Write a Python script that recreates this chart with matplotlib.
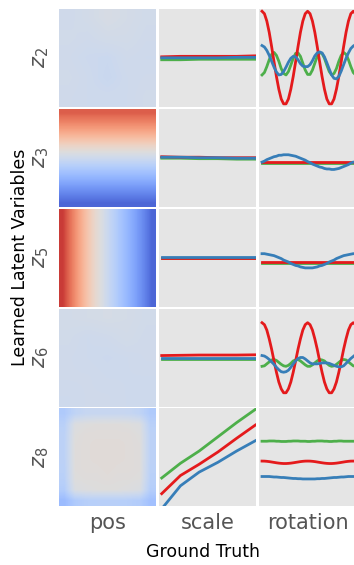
import numpy as np
import matplotlib.pyplot as plt

plt.style.use('ggplot')

latents = ['$z_2$', '$z_3$', '$z_5$', '$z_6$', '$z_8$']
factors = ['pos', 'scale', 'rotation']
GREEN, RED, BLUE = '#4DAF4A', '#E41A1C', '#377EB8'

# --- pos column: mean latent value over the 2D position grid (coolwarm, -1..1)
pos_z2 = [[-0.10, -0.08, -0.05, -0.07, -0.09],
          [-0.09, -0.10, -0.08, -0.08, -0.10],
          [-0.10, -0.12, -0.13, -0.10, -0.11],
          [-0.09, -0.11, -0.14, -0.11, -0.10],
          [-0.10, -0.11, -0.11, -0.11, -0.09]]
pos_z3_rows = [0.75, 0.62, 0.47, 0.30, 0.12, -0.04, -0.19, -0.34, -0.48, -0.62, -0.75, -0.88]
pos_z5_cols = [0.88, 0.66, 0.45, 0.25, 0.08, -0.06, -0.20, -0.33, -0.45, -0.58, -0.72, -0.88]
pos_z6 = [[-0.08, -0.07, -0.06, -0.07, -0.09],
          [-0.09, -0.11, -0.10, -0.08, -0.10],
          [-0.10, -0.11, -0.12, -0.11, -0.10],
          [-0.10, -0.10, -0.11, -0.11, -0.11],
          [-0.11, -0.10, -0.10, -0.11, -0.11]]
pos_z8 = [[-0.30, -0.20, -0.16, -0.15, -0.15, -0.15, -0.16, -0.20, -0.30],
          [-0.24, -0.02, 0.00, 0.01, 0.01, 0.01, 0.00, -0.02, -0.24],
          [-0.22, 0.00, 0.02, 0.02, 0.02, 0.02, 0.02, 0.00, -0.22],
          [-0.22, 0.01, 0.02, 0.03, 0.03, 0.03, 0.02, 0.01, -0.22],
          [-0.22, 0.01, 0.02, 0.03, 0.03, 0.03, 0.02, 0.01, -0.22],
          [-0.23, 0.01, 0.02, 0.02, 0.03, 0.02, 0.02, 0.01, -0.23],
          [-0.24, 0.00, 0.01, 0.01, 0.02, 0.01, 0.01, 0.00, -0.24],
          [-0.28, -0.03, -0.01, 0.00, 0.00, 0.00, -0.01, -0.03, -0.27],
          [-0.42, -0.30, -0.26, -0.25, -0.25, -0.25, -0.26, -0.28, -0.38]]

# --- scale column (6 scale values), one row per latent
scale_green = [[-0.04, -0.04, -0.03, -0.03, -0.03, -0.03],
               [-0.01, -0.01, -0.02, -0.02, -0.03, -0.03],
               [-0.01, -0.01, -0.01, -0.01, -0.01, -0.01],
               [-0.03, -0.03, -0.03, -0.03, -0.03, -0.03],
               [-0.42, -0.12, 0.13, 0.42, 0.71, 0.98]]
scale_red = [[0.02, 0.03, 0.03, 0.03, 0.03, 0.04],
             [0.02, 0.01, 0.01, 0.00, 0.00, 0.00],
             [-0.005, -0.005, -0.005, -0.005, -0.005, -0.005],
             [0.04, 0.045, 0.05, 0.05, 0.05, 0.055],
             [-0.74, -0.37, -0.14, 0.11, 0.39, 0.66]]
scale_blue = [[0.00, 0.00, 0.00, 0.00, 0.01, 0.01],
              [0.01, 0.01, 0.00, 0.00, -0.01, -0.01],
              [0.01, 0.01, 0.01, 0.01, 0.01, 0.01],
              [0.00, 0.00, 0.00, 0.00, 0.00, 0.00],
              [-1.05, -0.58, -0.30, -0.10, 0.13, 0.34]]

# --- rotation column (40 rotation values)
rot_red_z2 = [0.95, 0.90, 0.75, 0.52, 0.23, -0.08, -0.38, -0.64, -0.84, -0.94,
              -0.94, -0.84, -0.64, -0.38, -0.08, 0.23, 0.52, 0.75, 0.90, 0.95,
              0.90, 0.75, 0.52, 0.23, -0.08, -0.38, -0.64, -0.84, -0.94, -0.94,
              -0.84, -0.64, -0.38, -0.08, 0.23, 0.52, 0.75, 0.90, 0.95, 0.90]
rot_green_z2 = [-0.35, -0.30, -0.18, -0.04, 0.07, 0.11, 0.05, -0.07, -0.22, -0.32,
                -0.35, -0.28, -0.15, -0.01, 0.09, 0.10, 0.03, -0.11, -0.25, -0.34,
                -0.34, -0.25, -0.11, 0.03, 0.10, 0.09, -0.01, -0.15, -0.28, -0.35,
                -0.32, -0.22, -0.07, 0.05, 0.11, 0.07, -0.04, -0.18, -0.30, -0.35]
rot_blue_z2 = [0.25, 0.22, 0.15, 0.05, -0.07, -0.19, -0.29, -0.35, -0.34, -0.28,
               -0.19, -0.09, -0.01, 0.03, 0.02, -0.04, -0.12, -0.17, -0.18, -0.18,
               -0.14, -0.06, 0.04, 0.10, 0.12, 0.10, 0.02, -0.10, -0.23, -0.35,
               -0.42, -0.43, -0.38, -0.27, -0.14, -0.01, 0.10, 0.19, 0.24, 0.27]
rot_red_z3 = [-0.09] * 40
rot_green_z3 = [-0.11] * 40
rot_blue_z3 = [-0.09, -0.07, -0.04, -0.02, 0.00, 0.02, 0.03, 0.05, 0.05, 0.06,
               0.06, 0.06, 0.05, 0.04, 0.03, 0.01, -0.01, -0.03, -0.05, -0.08,
               -0.10, -0.13, -0.15, -0.17, -0.19, -0.20, -0.22, -0.23, -0.23, -0.24,
               -0.24, -0.23, -0.22, -0.20, -0.18, -0.16, -0.14, -0.11, -0.09, -0.09]
rot_red_z5 = [-0.09] * 40
rot_green_z5 = [-0.10] * 40
rot_blue_z5 = [0.08, 0.08, 0.07, 0.06, 0.05, 0.04, 0.02, 0.00, -0.02, -0.05,
               -0.07, -0.09, -0.12, -0.14, -0.16, -0.17, -0.19, -0.20, -0.21, -0.21,
               -0.21, -0.21, -0.20, -0.19, -0.17, -0.16, -0.14, -0.12, -0.09, -0.07,
               -0.05, -0.02, 0.00, 0.02, 0.04, 0.05, 0.06, 0.07, 0.08, 0.08]
rot_red_z6 = [0.71, 0.67, 0.56, 0.38, 0.17, -0.07, -0.30, -0.50, -0.64, -0.72,
              -0.72, -0.64, -0.50, -0.30, -0.07, 0.17, 0.38, 0.56, 0.67, 0.71,
              0.67, 0.56, 0.38, 0.17, -0.07, -0.30, -0.50, -0.64, -0.72, -0.72,
              -0.64, -0.50, -0.30, -0.07, 0.17, 0.38, 0.56, 0.67, 0.71, 0.67]
rot_green_z6 = [-0.18, -0.17, -0.13, -0.09, -0.05, -0.04, -0.06, -0.10, -0.14, -0.17,
                -0.18, -0.16, -0.12, -0.07, -0.05, -0.04, -0.07, -0.11, -0.15, -0.18,
                -0.18, -0.15, -0.11, -0.07, -0.04, -0.05, -0.07, -0.12, -0.16, -0.18,
                -0.17, -0.14, -0.10, -0.06, -0.04, -0.05, -0.09, -0.13, -0.17, -0.18]
rot_blue_z6 = [0.04, 0.03, 0.00, -0.04, -0.09, -0.14, -0.20, -0.25, -0.29, -0.30,
               -0.29, -0.26, -0.20, -0.13, -0.07, -0.02, 0.00, 0.00, -0.03, -0.07,
               -0.11, -0.13, -0.13, -0.13, -0.12, -0.11, -0.11, -0.11, -0.12, -0.14,
               -0.16, -0.18, -0.19, -0.19, -0.17, -0.12, -0.07, -0.02, 0.02, 0.06]
rot_red_z8 = [-0.075, -0.076, -0.08, -0.086, -0.094, -0.102, -0.11, -0.117, -0.122, -0.125,
              -0.125, -0.122, -0.117, -0.11, -0.102, -0.094, -0.086, -0.08, -0.076, -0.075,
              -0.076, -0.08, -0.086, -0.094, -0.102, -0.11, -0.117, -0.122, -0.125, -0.125,
              -0.122, -0.117, -0.11, -0.102, -0.094, -0.086, -0.08, -0.076, -0.075, -0.076]
rot_green_z8 = [0.33, 0.33, 0.33, 0.335, 0.335, 0.335, 0.33, 0.33, 0.325, 0.325,
                0.325, 0.33, 0.33, 0.335, 0.335, 0.335, 0.33, 0.33, 0.33, 0.325,
                0.325, 0.33, 0.33, 0.335, 0.335, 0.335, 0.33, 0.33, 0.325, 0.325,
                0.33, 0.33, 0.335, 0.335, 0.33, 0.33, 0.33, 0.33, 0.33, 0.33]
rot_blue_z8 = [-0.39, -0.39, -0.39, -0.39, -0.395, -0.40, -0.40, -0.405, -0.41, -0.41,
               -0.415, -0.42, -0.425, -0.43, -0.43, -0.435, -0.435, -0.44, -0.44, -0.44,
               -0.44, -0.44, -0.44, -0.435, -0.435, -0.43, -0.43, -0.425, -0.42, -0.415,
               -0.41, -0.41, -0.405, -0.40, -0.40, -0.395, -0.39, -0.39, -0.39, -0.39]

rot_green = [rot_green_z2, rot_green_z3, rot_green_z5, rot_green_z6, rot_green_z8]
rot_red = [rot_red_z2, rot_red_z3, rot_red_z5, rot_red_z6, rot_red_z8]
rot_blue = [rot_blue_z2, rot_blue_z3, rot_blue_z5, rot_blue_z6, rot_blue_z8]

pos_maps = [np.array(pos_z2),
            np.tile(np.array(pos_z3_rows)[:, None], (1, 2)),
            np.tile(np.array(pos_z5_cols)[None, :], (2, 1)),
            np.array(pos_z6),
            np.array(pos_z8)]

W, H = 354, 565
fig = plt.figure(figsize=(W / 100, H / 100), dpi=100)

col_left = [58.7, 159.0, 259.3]
pw, ph = 97.0, 98.0
row_top = [8.8, 108.7, 208.6, 308.5, 408.4]

x_scale = np.linspace(0, 1, 6)
x_rot = np.linspace(0, 1, 40)

for r in range(5):
    axes = []
    for c in range(3):
        ax = fig.add_axes([col_left[c] / W, 1 - (row_top[r] + ph) / H, pw / W, ph / H])
        ax.set_xticks([])
        ax.set_yticks([])
        ax.grid(False)
        for s in ax.spines.values():
            s.set_visible(False)
        axes.append(ax)

    axes[0].imshow(pos_maps[r], cmap='coolwarm', vmin=-1, vmax=1, aspect='auto',
                   interpolation='bilinear', extent=(0, 1, 1, 0))
    axes[0].set_xlim(0, 1)
    axes[0].set_ylim(1, 0)

    axes[1].plot(x_scale, scale_green[r], color=GREEN, lw=2)
    axes[1].plot(x_scale, scale_red[r], color=RED, lw=2)
    axes[1].plot(x_scale, scale_blue[r], color=BLUE, lw=2)

    axes[2].plot(x_rot, rot_green[r], color=GREEN, lw=2)
    axes[2].plot(x_rot, rot_red[r], color=RED, lw=2)
    axes[2].plot(x_rot, rot_blue[r], color=BLUE, lw=2)

    for ax in axes[1:]:
        ax.set_xlim(-0.029, 1.007)
        ax.set_ylim(-1, 1)

    axes[0].text(-0.18, 0.5, latents[r], transform=axes[0].transAxes, rotation=90,
                 ha='center', va='center', fontsize=15, color='#555555')

    if r == 4:
        for c in range(3):
            axes[c].text(0.5, -0.17, factors[c], transform=axes[c].transAxes,
                         ha='center', va='center', fontsize=15, color='#555555')

fig.text(20 / W, 1 - 257 / H, 'Learned Latent Variables', rotation=90,
         ha='center', va='center', fontsize=12.5, color='black')
fig.text(203 / W, 1 - 552 / H, 'Ground Truth', ha='center', va='center',
         fontsize=12.5, color='black')

fig.savefig('out.png', dpi=100)
